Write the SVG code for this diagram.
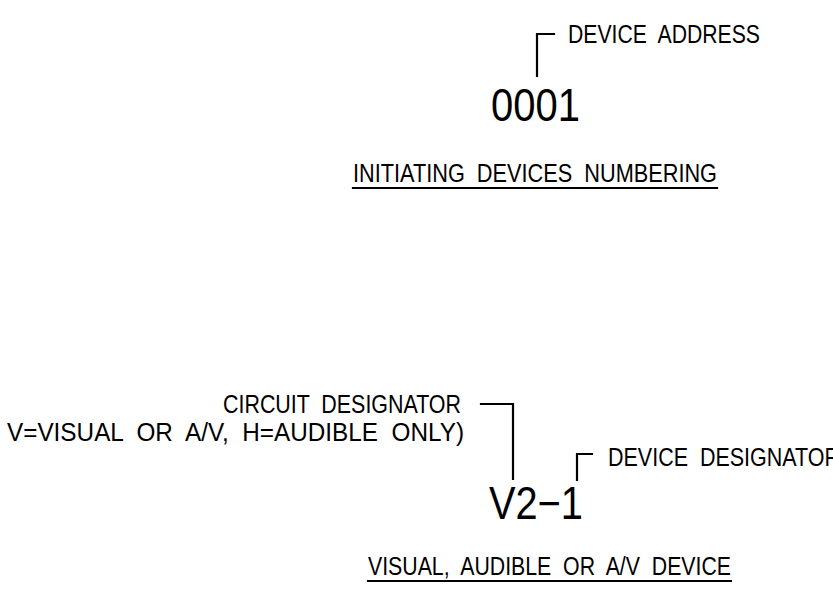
<svg xmlns="http://www.w3.org/2000/svg" width="833" height="610" viewBox="0 0 833 610">
<style>
text{white-space:pre}
.t{font-family:"Liberation Sans","DejaVu Sans",sans-serif;fill:#000;font-size:26px}
.big{font-family:"Liberation Sans","DejaVu Sans",sans-serif;fill:#000;font-size:46px}
.ln{stroke:#000;stroke-width:2.2;fill:none;stroke-linecap:square}
</style>
<rect width="833" height="610" fill="#fff"/>
<g id="device-address">
<text class="t" xml:space="preserve" x="568" y="43" textLength="192" lengthAdjust="spacingAndGlyphs">DEVICE  ADDRESS</text>
</g>
<g id="number-0001">
<text class="big" x="491" y="121" textLength="89" lengthAdjust="spacingAndGlyphs">0001</text>
</g>
<g id="title-initiating">
<text class="t" xml:space="preserve" x="353" y="182" textLength="364" lengthAdjust="spacingAndGlyphs">INITIATING  DEVICES  NUMBERING</text>
</g>
<g id="circuit-designator">
<text class="t" xml:space="preserve" x="223" y="413" textLength="238" lengthAdjust="spacingAndGlyphs">CIRCUIT  DESIGNATOR</text>
<text class="t" xml:space="preserve" x="7" y="441" textLength="457" lengthAdjust="spacingAndGlyphs">V=VISUAL  OR  A/V,  H=AUDIBLE  ONLY)</text>
</g>
<g id="device-designator">
<text class="t" xml:space="preserve" x="608" y="466" textLength="232" lengthAdjust="spacingAndGlyphs">DEVICE  DESIGNATOR</text>
</g>
<g id="v2-1">
<text class="big" x="489" y="519" textLength="94" lengthAdjust="spacingAndGlyphs">V2−1</text>
</g>
<g id="title-visual">
<text class="t" xml:space="preserve" x="368" y="575" textLength="363" lengthAdjust="spacingAndGlyphs">VISUAL,  AUDIBLE  OR  A/V  DEVICE</text>
</g>
<g id="connectors">
<polyline class="ln" points="537,76 537,34 554,34"/>
<line class="ln" x1="353" y1="188" x2="717" y2="188"/>
<polyline class="ln" points="481,404 513,404 513,479"/>
<polyline class="ln" points="577,480 577,454 592,454"/>
<line class="ln" x1="368" y1="581" x2="731" y2="581"/>
</g>
</svg>
